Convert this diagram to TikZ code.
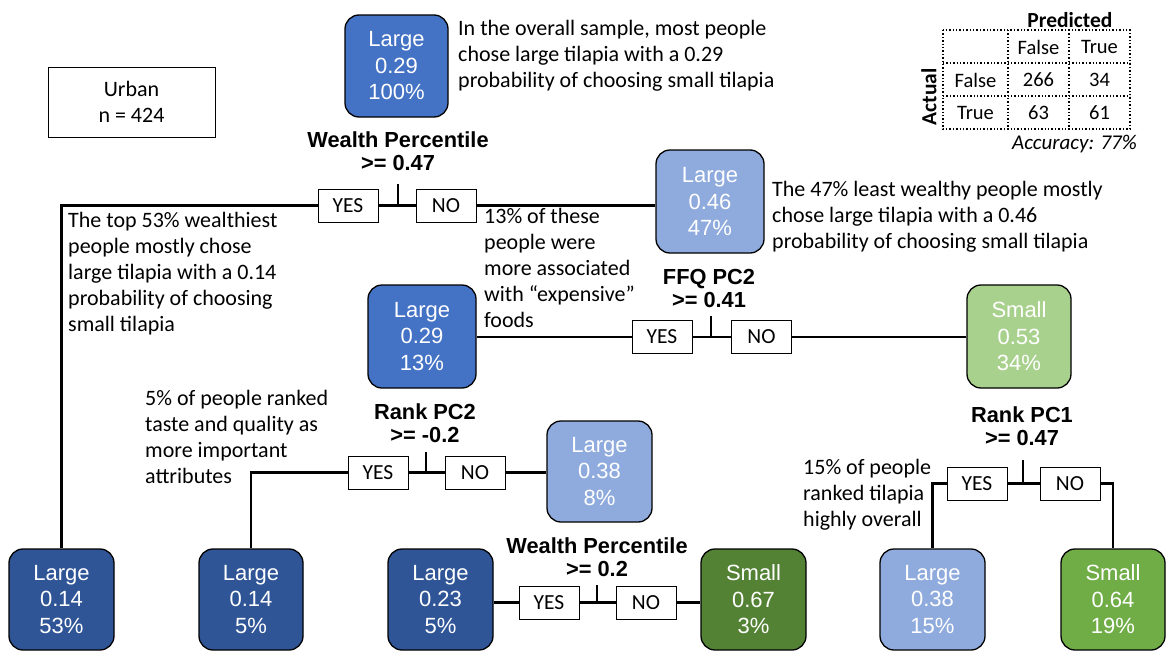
\documentclass[tikz,border=0pt]{standalone}
\usepackage{fontspec}
\setmainfont{Carlito}
\newfontfamily\arialf{Liberation Sans}
\definecolor{bmid}{HTML}{4472C4}
\definecolor{blight}{HTML}{8FAADC}
\definecolor{bdark}{HTML}{2F5597}
\definecolor{glight}{HTML}{A9D18E}
\definecolor{gmid}{HTML}{70AD47}
\definecolor{gdark}{HTML}{548235}
\tikzset{
  leaf/.style={draw=black, line width=1.3pt, rounded corners=14pt, minimum width=105pt, minimum height=101pt, text=white, align=center, font=\arialf\fontsize{22}{26.5}\selectfont, inner sep=0pt},
  yn/.style={draw=black, line width=0.9pt, fill=white, minimum width=60pt, minimum height=33pt, inner sep=0pt, font=\fontsize{21.5}{24}\selectfont},
  cond/.style={align=center, font=\arialf\bfseries\fontsize{21.8}{23}\selectfont, inner sep=0pt},
  note/.style={align=left, anchor=north west, inner sep=0pt, font=\fontsize{22}{26}\selectfont},
  conn/.style={line width=2.6pt},
  cell/.style={inner sep=0pt, font=\fontsize{20.5}{22}\selectfont},
  grid line/.style={dotted, line width=1.4pt},
}
\begin{document}
\begin{tikzpicture}[x=1pt,y=-1pt]
\useasboundingbox (0,0) rectangle (1168,664);
% leaf / internal nodes
\node[leaf, fill=bmid, minimum width=103pt, minimum height=102pt] (root) at (396.5,66) {Large\\0.29\\100\%};
\node[leaf, fill=blight, minimum width=108pt, minimum height=103pt] (n46) at (710,201.5) {Large\\0.46\\47\%};
\node[leaf, fill=bmid, minimum width=108pt, minimum height=103pt] (m29) at (422,336.5) {Large\\0.29\\13\%};
\node[leaf, fill=glight, minimum width=104pt, minimum height=103pt] (s53) at (1019,336.5) {Small\\0.53\\34\%};
\node[leaf, fill=blight] (m38) at (599.5,471.5) {Large\\0.38\\8\%};
\node[leaf, fill=bdark] (l53) at (61.5,599.5) {Large\\0.14\\53\%};
\node[leaf, fill=bdark, minimum width=104pt] (l5) at (251,599.5) {Large\\0.14\\5\%};
\node[leaf, fill=bdark] (l23) at (440.5,599.5) {Large\\0.23\\5\%};
\node[leaf, fill=gdark] (s67) at (753.5,599.5) {Small\\0.67\\3\%};
\node[leaf, fill=blight] (l38) at (932.5,599.5) {Large\\0.38\\15\%};
\node[leaf, fill=gmid, minimum width=104pt] (s64) at (1113,599.5) {Small\\0.64\\19\%};
% Urban box
\node[draw=black, line width=0.6pt, minimum width=167pt, minimum height=70pt, align=center, inner sep=0pt, font=\fontsize{22}{26}\selectfont] (urban) at (131.5,102) {Urban\\n = 424};
% split 1
\node[cond] (c1) at (398,151.5) {Wealth Percentile\\>= 0.47};
\node[yn] (y1) at (348,205.5) {YES};
\node[yn] (no1) at (446,205.5) {NO};
\coordinate (t1) at (398,184);
\draw[conn] (l53.north) |- (y1.west);
\draw[conn] (y1.east) -- (no1.west);
\draw[conn] (t1) -- (t1 |- y1.east);
\draw[conn] (no1.east) -- (n46.west |- no1.east);
% split 2
\node[cond] (c2) at (709,288.5) {FFQ PC2\\>= 0.41};
\node[yn] (y2) at (662,337) {YES};
\node[yn] (no2) at (761.5,337) {NO};
\coordinate (t2) at (711,316);
\draw[conn] (m29.east |- y2.west) -- (y2.west);
\draw[conn] (y2.east) -- (no2.west);
\draw[conn] (t2) -- (t2 |- y2.east);
\draw[conn] (no2.east) -- (s53.west |- no2.east);
% split 3
\node[cond] (c3) at (425,423) {Rank PC2\\>= -0.2};
\node[yn] (y3) at (378,472.5) {YES};
\node[yn] (no3) at (475,472.5) {NO};
\coordinate (t3) at (426,452);
\draw[conn] (l5.north) |- (y3.west);
\draw[conn] (y3.east) -- (no3.west);
\draw[conn] (t3) -- (t3 |- y3.east);
\draw[conn] (no3.east) -- (m38.west |- no3.east);
% split 4
\node[cond] (c4) at (597,557) {Wealth Percentile\\>= 0.2};
\node[yn] (y4) at (549,602.5) {YES};
\node[yn] (no4) at (646,602.5) {NO};
\coordinate (t4) at (597,585);
\draw[conn] (l23.east |- y4.west) -- (y4.west);
\draw[conn] (y4.east) -- (no4.west);
\draw[conn] (t4) -- (t4 |- y4.east);
\draw[conn] (no4.east) -- (s67.west |- no4.east);
% split 5
\node[cond] (c5) at (1022,426) {Rank PC1\\>= 0.47};
\node[yn] (y5) at (977,483.5) {YES};
\node[yn] (no5) at (1070,483.5) {NO};
\coordinate (t5) at (1023,460);
\draw[conn] (l38.north) |- (y5.west);
\draw[conn] (y5.east) -- (no5.west);
\draw[conn] (t5) -- (t5 |- y5.east);
\draw[conn] (no5.east) -| (s64.north);
% notes
\node[note] (a1) at (458,20) {In the overall sample, most people\\chose large tilapia with a 0.29\\probability of choosing small tilapia};
\node[note] (a2) at (68,212) {The top 53\% wealthiest\\people mostly chose\\large tilapia with a 0.14\\probability of choosing\\small tilapia};
\node[note] (a3) at (484,208) {13\% of these\\people were\\more associated\\with “expensive”\\foods};
\node[note] (a4) at (772,181) {The 47\% least wealthy people mostly\\chose large tilapia with a 0.46\\probability of choosing small tilapia};
\node[note] (a5) at (145,390) {5\% of people ranked\\taste and quality as\\more important\\attributes};
\node[note] (a6) at (803,459) {15\% of people\\ranked tilapia\\highly overall};
% confusion matrix
\draw[grid line] (943,30) rectangle (1130,129);
\draw[grid line] (943,63) -- (1130,63);
\draw[grid line] (943,96) -- (1130,96);
\draw[grid line] (1008,30) -- (1008,129);
\draw[grid line] (1069,30) -- (1069,129);
\node[cell, font=\bfseries\fontsize{21.5}{22}\selectfont] (pred) at (1070,20) {Predicted};
\node[cell, font=\bfseries\fontsize{21.5}{22}\selectfont, rotate=90] (act) at (929,97) {Actual};
\node[cell] (hf) at (1038.5,47) {False};
\node[cell] (ht) at (1099.5,47) {True};
\node[cell] (rf) at (975.5,80) {False};
\node[cell] (rt) at (975.5,113) {True};
\node[cell] (c11) at (1038.5,80) {266};
\node[cell] (c12) at (1099.5,80) {34};
\node[cell] (c21) at (1038.5,113) {63};
\node[cell] (c22) at (1099.5,113) {61};
\node[cell, anchor=east, font=\itshape\fontsize{21}{22}\selectfont] (acc) at (1137,144) {Accuracy: 77\%};
\end{tikzpicture}
\end{document}
